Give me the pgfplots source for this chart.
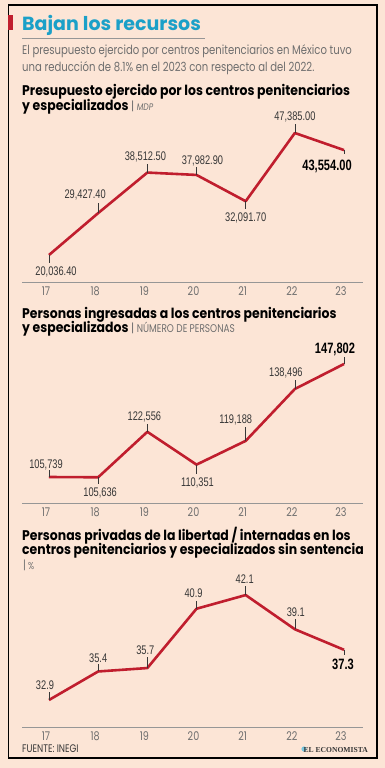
\documentclass[border=0pt]{standalone}
\usepackage{fontspec}
\usepackage{pgfplots}
\pgfplotsset{compat=1.18}
\setmainfont{Poppins}
\newfontfamily\numfont[FakeStretch=0.74]{Liberation Sans}
\newfontfamily\hfont[FakeStretch=0.89]{Poppins}
\newfontfamily\sfont[FakeStretch=0.8]{Poppins}
\newfontfamily\ecofont{Liberation Serif}
\definecolor{bg}{RGB}{252,229,214}
\definecolor{lred}{RGB}{192,30,46}
\definecolor{cyanT}{RGB}{27,160,200}
\definecolor{txt}{RGB}{55,55,55}
\definecolor{grayt}{RGB}{110,110,110}
\definecolor{axisg}{RGB}{150,150,150}
\pgfplotsset{
  myax/.style={
    scale only axis, width=341pt, xmin=16.451, xmax=23.386,
    axis x line=bottom, axis y line=none,
    x axis line style={-, draw=axisg, line width=0.8pt},
    xtick={17,18,19,20,21,22,23},
    xticklabels={17,18,19,20,21,22,23},
    major tick length=0pt, ytick=\empty,
    xticklabel style={font=\sfont\fontsize{12}{13}\selectfont, text=grayt, xshift=-3pt, yshift=-1pt},
    clip=false,
  },
  myline/.style={lred, line width=2.6pt, line join=round}
}
% #1 x, #2 y, #3 tick length, #4 xshift, #5 yshift, #6 text
\newcommand{\lab}[6]{%
  \draw[txt, line width=0.5pt] (axis cs:#1,#2) -- ++(0pt,#3);
  \node[anchor=base, inner sep=0pt, text=txt, font=\numfont\fontsize{12.5}{13}\selectfont]
    at (axis cs:#1,#2) [xshift=#4, yshift=#5] {#6};}
\newcommand{\blab}[6]{%
  \draw[txt, line width=0.5pt] (axis cs:#1,#2) -- ++(0pt,#3);
  \node[anchor=base, inner sep=0pt, text=black, font=\numfont\bfseries\fontsize{15}{16}\selectfont]
    at (axis cs:#1,#2) [xshift=#4, yshift=#5] {#6};}
\begin{document}
\begin{tikzpicture}
\fill[bg] (0pt,0pt) rectangle (385pt,-768pt);
\draw[black, line width=1.5pt] (8.5pt,-5pt) rectangle (377pt,-758pt);
\fill[lred] (8pt,-15pt) rectangle (13pt,-30pt);
\node[anchor=base west, inner sep=0pt, text=cyanT, font=\bfseries\fontsize{19}{20}\selectfont] at (22pt,-31pt) {Bajan los recursos};
\draw[axisg, line width=0.6pt] (22pt,-38pt) -- (205pt,-38pt);
\node[anchor=base west, inner sep=0pt, text=grayt, font=\sfont\fontsize{12.6}{14}\selectfont] at (22pt,-55pt) {El presupuesto ejercido por centros penitenciarios en México tuvo};
\node[anchor=base west, inner sep=0pt, text=grayt, font=\sfont\fontsize{12.6}{14}\selectfont] at (22pt,-71pt) {una reducción de 8.1\% en el 2023 con respecto al del 2022.};
% chart titles
\node[anchor=base west, inner sep=0pt, text=black, font=\hfont\bfseries\fontsize{14}{15}\selectfont] at (22pt,-95pt) {Presupuesto ejercido por los centros penitenciarios};
\node[anchor=base west, inner sep=0pt, text=black, font=\hfont\bfseries\fontsize{14}{15}\selectfont] at (22pt,-110pt) {y especializados \textcolor{grayt}{\mdseries\fontsize{12}{13}\selectfont|} \textcolor{grayt}{\sfont\mdseries\itshape\fontsize{9.5}{10}\selectfont MDP}};
\node[anchor=base west, inner sep=0pt, text=black, font=\hfont\bfseries\fontsize{14}{15}\selectfont] at (22pt,-318pt) {Personas ingresadas a los centros penitenciarios};
\node[anchor=base west, inner sep=0pt, text=black, font=\hfont\bfseries\fontsize{14}{15}\selectfont] at (22pt,-332pt) {y especializados \textcolor{grayt}{\mdseries\fontsize{12}{13}\selectfont|} \textcolor{grayt}{\sfont\mdseries\fontsize{11.2}{12}\selectfont NÚMERO DE PERSONAS}};
\node[anchor=base west, inner sep=0pt, text=black, font=\hfont\bfseries\fontsize{14}{15}\selectfont] at (22pt,-540pt) {Personas privadas de la libertad / internadas en los};
\node[anchor=base west, inner sep=0pt, text=black, font=\hfont\bfseries\fontsize{14}{15}\selectfont] at (22pt,-554pt) {centros penitenciarios y especializados sin sentencia};
\node[anchor=base west, inner sep=0pt, text=grayt, font=\sfont\fontsize{10}{11}\selectfont] at (23pt,-569pt) {{\fontsize{12}{13}\selectfont|} \%};
% footer
\node[anchor=base west, inner sep=0pt, text=txt, font=\sfont\fontsize{11}{12}\selectfont] at (22pt,-752pt) {FUENTE: INEGI};
\fill[cyanT!60] (304pt,-749pt) circle (2.6pt);
\node[anchor=base east, inner sep=0pt, text=txt, font=\ecofont\bfseries\fontsize{7.6}{8}\selectfont] at (368pt,-752pt) {EL ECONOMISTA};

% chart 1
\begin{axis}[myax, at={(22pt,-282pt)}, anchor=south west, height=167pt, ymin=13984, ymax=51419]
\addplot[myline] coordinates {(17,20036.4) (18,29427.4) (19,38512.5) (20,37982.9) (21,32091.7) (22,47385.0) (23,43554.0)};
\lab{17}{20036.4}{-8pt}{7pt}{-20pt}{20,036.40}
\lab{18}{29427.4}{10pt}{-13pt}{15pt}{29,427.40}
\lab{19}{38512.5}{9pt}{-2pt}{12pt}{38,512.50}
\lab{20}{37982.9}{8pt}{6pt}{10pt}{37,982.90}
\lab{21}{32091.7}{-8pt}{0pt}{-20pt}{32,091.70}
\lab{22}{47385.0}{9pt}{0pt}{12pt}{47,385.00}
\blab{23}{43554.0}{-4pt}{-17pt}{-20pt}{43,554.00}
\end{axis}

% chart 2
\begin{axis}[myax, at={(22pt,-503pt)}, anchor=south west, height=153pt, ymin=96063, ymax=153004]
\addplot[myline] coordinates {(17,105739) (18,105636) (19,122556) (20,110351) (21,119188) (22,138496) (23,147802)};
\lab{17}{105739}{7pt}{-3pt}{9pt}{105,739}
\lab{18}{105636}{-7pt}{2pt}{-19pt}{105,636}
\lab{19}{122556}{8pt}{-3pt}{11pt}{122,556}
\lab{20}{110351}{-9pt}{1pt}{-22pt}{110,351}
\lab{21}{119188}{14pt}{-10pt}{17pt}{119,188}
\lab{22}{138496}{9pt}{-9pt}{12pt}{138,496}
\blab{23}{147802}{7pt}{-9pt}{10pt}{147,802}
\end{axis}

% chart 3
\begin{axis}[myax, at={(22pt,-727pt)}, anchor=south west, height=147pt, ymin=30.53, ymax=43.42]
\addplot[myline] coordinates {(17,32.9) (18,35.4) (19,35.7) (20,40.9) (21,42.1) (22,39.1) (23,37.3)};
\lab{17}{32.9}{8pt}{-4pt}{10pt}{32.9}
\lab{18}{35.4}{7pt}{0pt}{9pt}{35.4}
\lab{19}{35.7}{11pt}{-2pt}{14pt}{35.7}
\lab{20}{40.9}{8pt}{-3pt}{11pt}{40.9}
\lab{21}{42.1}{9pt}{-1pt}{12pt}{42.1}
\lab{22}{39.1}{10pt}{1pt}{13pt}{39.1}
\blab{23}{37.3}{-5pt}{-1pt}{-20pt}{37.3}
\end{axis}
\end{tikzpicture}
\end{document}
